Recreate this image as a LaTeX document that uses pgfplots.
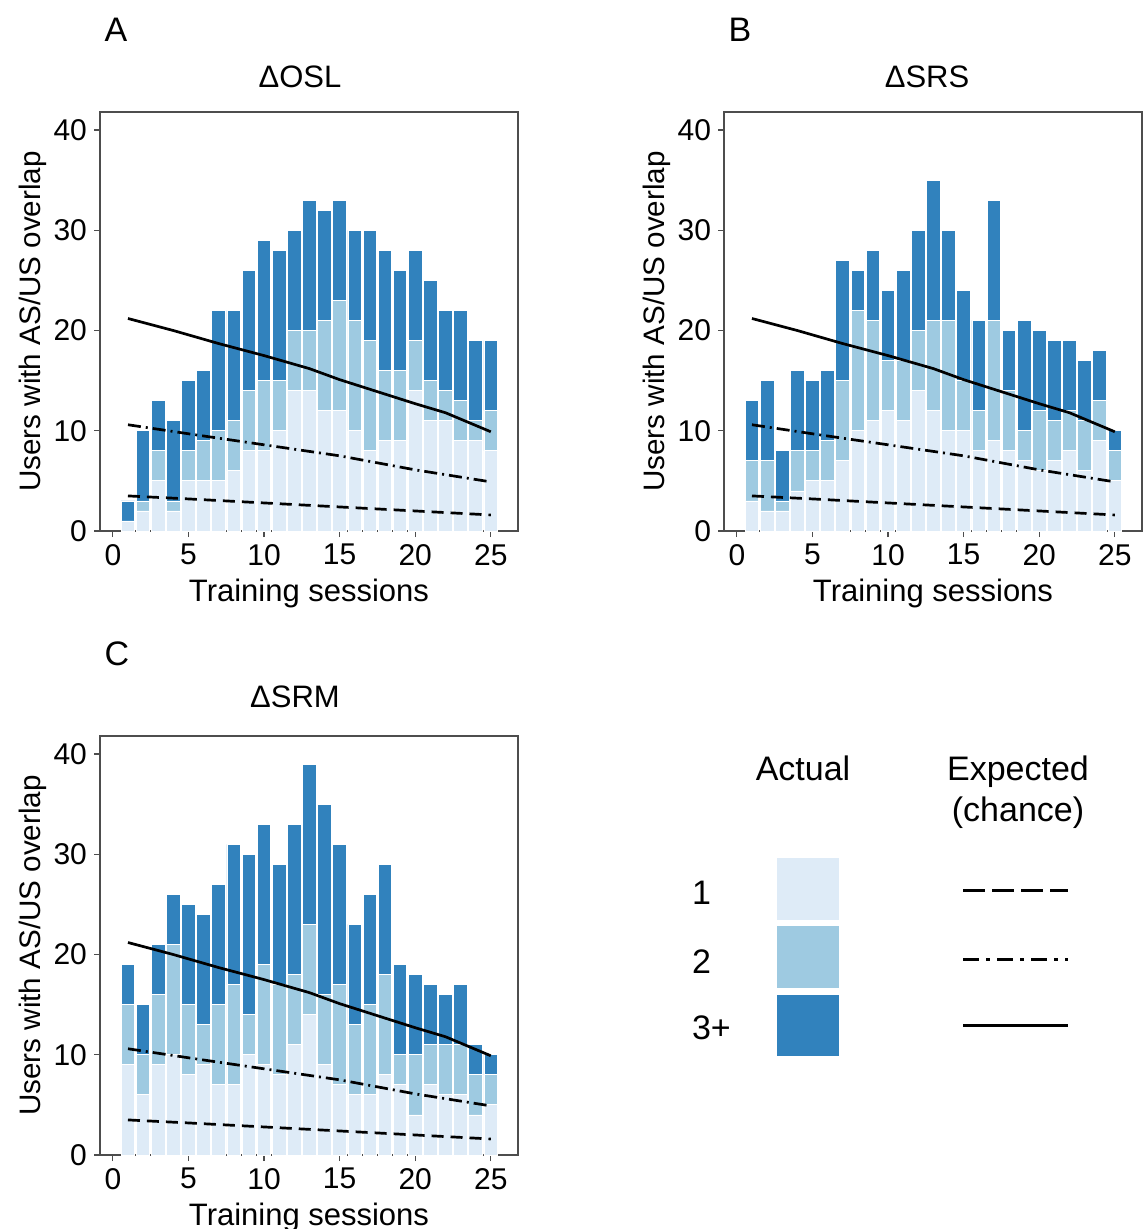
\documentclass[border=0pt]{standalone}
\usepackage{pgfplots}
\pgfplotsset{compat=1.18}
\usepackage{pgfplotstable}
\usepackage{fontspec}
\setmainfont{Liberation Sans}

\definecolor{b1}{HTML}{DEEBF7}
\definecolor{b2}{HTML}{9ECAE1}
\definecolor{b3}{HTML}{3182BD}
\definecolor{frame}{HTML}{4D4D4D}

% actual users per session: overlap 1, 2, 3+
\pgfplotstableread{
s l1 l2 l3
1 1 0 2
2 2 1 7
3 5 3 5
4 2 1 8
5 5 3 7
6 5 4 7
7 5 5 12
8 6 5 11
9 8 6 12
10 8 7 14
11 10 5 13
12 14 6 10
13 14 6 13
14 12 9 11
15 12 11 10
16 10 11 9
17 8 11 11
18 9 7 12
19 9 7 10
20 14 5 9
21 11 4 10
22 11 3 8
23 9 4 9
24 9 2 8
25 8 4 7
}\osl

\pgfplotstableread{
s l1 l2 l3
1 3 4 6
2 2 5 8
3 2 1 5
4 4 4 8
5 5 3 7
6 5 4 7
7 7 8 12
8 10 12 4
9 11 10 7
10 12 5 7
11 11 6 9
12 14 6 10
13 12 9 14
14 10 11 9
15 10 5 9
16 8 4 9
17 9 12 12
18 8 6 6
19 7 3 11
20 6 6 8
21 7 4 8
22 8 4 7
23 6 5 6
24 9 4 5
25 5 3 2
}\srs

\pgfplotstableread{
s l1 l2 l3
1 9 6 4
2 6 4 5
3 9 7 5
4 10 11 5
5 8 7 10
6 9 4 11
7 7 8 12
8 7 10 14
9 10 4 16
10 9 10 14
11 8 9 12
12 11 7 15
13 14 9 16
14 9 7 19
15 7 10 14
16 6 7 10
17 6 9 11
18 8 10 11
19 7 3 9
20 4 6 8
21 7 4 6
22 6 5 5
23 6 5 6
24 4 4 3
25 5 3 2
}\srm

% expected (chance)
\pgfplotstableread{
x y
1 21.2
4 20.0
7 18.7
10 17.5
13 16.2
15 15.1
20 12.7
22 11.8
25 9.9
}\expthree
\pgfplotstableread{
x y
1 10.6
5 9.7
10 8.6
15 7.5
20 6.1
25 4.9
}\exptwo
\pgfplotstableread{
x y
1 3.5
5 3.2
10 2.8
15 2.4
20 2.0
25 1.6
}\expone

\pgfplotsset{
  panel/.style={
    anchor=south west, width=209pt, height=209.5pt, scale only axis,
    xmin=-0.85, xmax=26.8, ymin=0, ymax=41.8,
  },
  barpanel/.style={
    panel, ybar stacked, bar width=0.9,
    axis line style={draw=frame, line width=0.6pt},
    xtick={0,5,...,25}, ytick={0,10,20,30,40},
    tick align=outside, tick pos=left, major tick length=3pt,
    tick style={draw=frame, line width=0.6pt},
    ticklabel style={font=\fontsize{15}{15}\selectfont},
    /pgf/number format/assume math mode=true,
    xlabel={Training sessions}, ylabel={Users with AS/US overlap},
    xlabel style={font=\fontsize{15.5}{16}\selectfont, at={(axis description cs:0.5,0)}, anchor=center, yshift=-31pt},
    ylabel style={font=\fontsize{14.8}{16}\selectfont, at={(axis description cs:-0.16,0.5)}, anchor=center},
  },
  bar1/.style={fill=b1, draw=white, line width=0.4pt},
  bar2/.style={fill=b2, draw=white, line width=0.4pt},
  bar3/.style={fill=b3, draw=white, line width=0.4pt},
  ex1/.style={black, line width=1.35pt, dash pattern=on 6pt off 3.5pt},
  ex2/.style={black, line width=1.35pt, dash pattern=on 6.5pt off 2.5pt on 1pt off 2.5pt},
  ex3/.style={black, line width=1.35pt},
}

\begin{document}
\begin{tikzpicture}
\useasboundingbox (0,0) rectangle (571pt,-614.5pt);

% A
\begin{axis}[barpanel, at={(50pt,-265.5pt)}]
\addplot[bar1] table[x=s,y=l1]{\osl};
\addplot[bar2] table[x=s,y=l2]{\osl};
\addplot[bar3] table[x=s,y=l3]{\osl};
\end{axis}
\begin{axis}[panel, hide axis, at={(50pt,-265.5pt)}]
\addplot[ex1] table{\expone};
\addplot[ex2] table{\exptwo};
\addplot[ex3] table{\expthree};
\end{axis}

% B
\begin{axis}[barpanel, at={(362pt,-265.5pt)}]
\addplot[bar1] table[x=s,y=l1]{\srs};
\addplot[bar2] table[x=s,y=l2]{\srs};
\addplot[bar3] table[x=s,y=l3]{\srs};
\end{axis}
\begin{axis}[panel, hide axis, at={(362pt,-265.5pt)}]
\addplot[ex1] table{\expone};
\addplot[ex2] table{\exptwo};
\addplot[ex3] table{\expthree};
\end{axis}

% C
\begin{axis}[barpanel, at={(50pt,-577.5pt)}]
\addplot[bar1] table[x=s,y=l1]{\srm};
\addplot[bar2] table[x=s,y=l2]{\srm};
\addplot[bar3] table[x=s,y=l3]{\srm};
\end{axis}
\begin{axis}[panel, hide axis, at={(50pt,-577.5pt)}]
\addplot[ex1] table{\expone};
\addplot[ex2] table{\exptwo};
\addplot[ex3] table{\expthree};
\end{axis}

% panel letters and titles
\begin{scope}[every node/.style={font=\fontsize{17}{17}\selectfont}]
\node at (58pt,-14.75pt) {A};
\node at (370pt,-14.75pt) {B};
\node at (58.5pt,-327pt) {C};
\end{scope}
\begin{scope}[every node/.style={font=\fontsize{15.5}{16}\selectfont}]
\node at (150pt,-38.5pt) {ΔOSL};
\node at (463.5pt,-38.5pt) {ΔSRS};
\node at (147.5pt,-348.5pt) {ΔSRM};
\end{scope}

% legend
\begin{scope}[every node/.style={font=\fontsize{17}{20.5}\selectfont}]
\node at (401.5pt,-384pt) {Actual};
\node[align=center] at (509pt,-396pt) {Expected\\(chance)};
\node[anchor=west] at (342.5pt,-446.5pt) {1};
\node[anchor=west] at (342.5pt,-481pt) {2};
\node[anchor=west] at (342.5pt,-514pt) {3+};
\end{scope}
\fill[b1] (388.5pt,-429pt) rectangle (419.5pt,-460pt);
\fill[b2] (388.5pt,-463pt) rectangle (419.5pt,-494pt);
\fill[b3] (388.5pt,-497.5pt) rectangle (419.5pt,-528pt);
\draw[black, line width=1.5pt, dash pattern=on 11pt off 3.5pt] (481.5pt,-445pt) -- (534pt,-445pt);
\draw[black, line width=1.5pt, dash pattern=on 8pt off 3.5pt on 2pt off 3.5pt] (481.5pt,-479.5pt) -- (534pt,-479.5pt);
\draw[black, line width=1.5pt] (481.5pt,-512.5pt) -- (534pt,-512.5pt);
\end{tikzpicture}
\end{document}
